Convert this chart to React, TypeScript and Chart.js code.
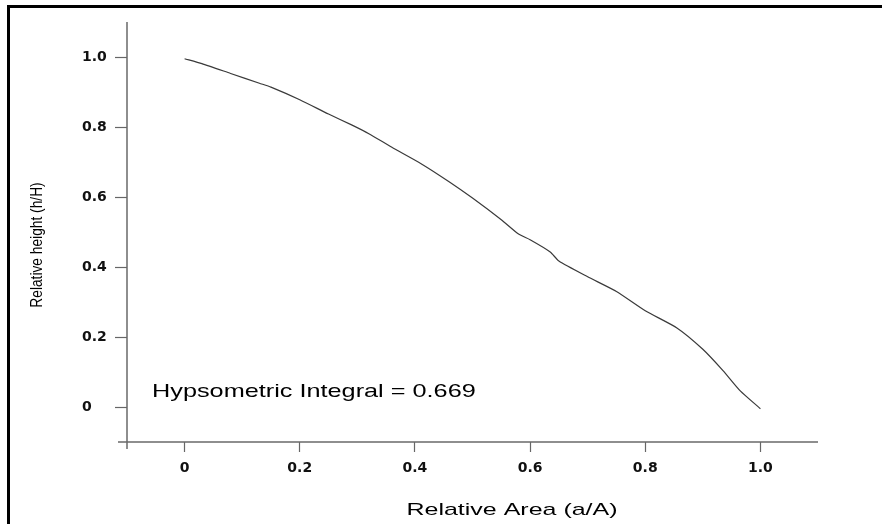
import React, { useEffect, useRef } from "react";
import { Chart, registerables } from "chart.js";

Chart.register(...registerables);

// Hypsometric curve (relative area a/A vs relative height h/H)
const areaRatio = [0, 0.03, 0.08, 0.13, 0.15, 0.2, 0.25, 0.29, 0.32, 0.36, 0.41, 0.46, 0.5, 0.55, 0.58, 0.6, 0.635, 0.65, 0.7, 0.75, 0.8, 0.855, 0.9, 0.935, 0.965, 1.0];
const heightRatio = [0.995, 0.981, 0.953, 0.925, 0.914, 0.878, 0.837, 0.806, 0.781, 0.742, 0.696, 0.643, 0.597, 0.535, 0.494, 0.478, 0.443, 0.417, 0.372, 0.33, 0.275, 0.226, 0.165, 0.104, 0.046, -0.005];

const xTickValues = [0, 0.2, 0.4, 0.6, 0.8, 1.0];
const xTickLabels = ["0", "0.2", "0.4", "0.6", "0.8", "1.0"];
const yTickValues = [0, 0.2, 0.4, 0.6, 0.8, 1.0];
const yTickLabels = ["0", "0.2", "0.4", "0.6", "0.8", "1.0"];

const xTitle = "Relative Area (a/A)";
const yTitle = "Relative height (h/H)";
const annotation = "Hypsometric Integral = 0.669";

const textPlugin = {
  id: "axesAndText",
  afterDraw(chart: any) {
    const { ctx, chartArea } = chart;
    const { left, right, top, bottom } = chartArea;
    ctx.save();
    // axis lines with crossing overhang
    ctx.strokeStyle = "#6a6a6a";
    ctx.lineWidth = 1.5;
    ctx.beginPath();
    ctx.moveTo(left - 9, bottom);
    ctx.lineTo(right, bottom);
    ctx.moveTo(left, top);
    ctx.lineTo(left, bottom + 7);
    ctx.stroke();

    ctx.fillStyle = "#000";
    // annotation
    ctx.save();
    ctx.font = "19px 'Liberation Sans', Arial, sans-serif";
    ctx.textAlign = "left";
    ctx.textBaseline = "alphabetic";
    ctx.translate(left + 25, 397);
    ctx.scale(1.33, 1);
    ctx.fillText(annotation, 0, 0);
    ctx.restore();

    // x title
    ctx.save();
    ctx.font = "17px 'Liberation Sans', Arial, sans-serif";
    ctx.textAlign = "center";
    ctx.textBaseline = "alphabetic";
    ctx.translate(512, 515);
    ctx.scale(1.47, 1);
    ctx.fillText(xTitle, 0, 0);
    ctx.restore();

    // y title
    ctx.save();
    ctx.font = "12.5px 'Liberation Sans', Arial, sans-serif";
    ctx.textAlign = "center";
    ctx.textBaseline = "middle";
    ctx.translate(37, 245);
    ctx.rotate(-Math.PI / 2);
    ctx.scale(1.1, 1.35);
    ctx.fillText(yTitle, 0, 0);
    ctx.restore();

    ctx.restore();
  },
};

export default function App() {
  const canvasRef = useRef<HTMLCanvasElement | null>(null);

  useEffect(() => {
    if (!canvasRef.current) return;
    const tickFont = { family: "'DejaVu Sans', sans-serif", size: 14, weight: "bold" };
    const chart = new Chart(canvasRef.current, {
      type: "line",
      data: {
        datasets: [
          {
            data: areaRatio.map((x, i) => ({ x, y: heightRatio[i] })),
            borderColor: "#3a3a3a",
            borderWidth: 1.2,
            pointRadius: 0,
            tension: 0.2,
            fill: false,
          },
        ],
      },
      options: {
        animation: false,
        responsive: false,
        devicePixelRatio: 1,
        layout: { padding: { left: 82, top: 22, right: 64, bottom: 0 } },
        plugins: { legend: { display: false }, tooltip: { enabled: false } },
        scales: {
          x: {
            type: "linear",
            min: -0.1,
            max: 1.1,
            border: { display: false },
            grid: {
              drawOnChartArea: false,
              drawTicks: true,
              tickLength: 10,
              tickColor: "#666",
              tickWidth: 1.2,
            },
            ticks: {
              font: tickFont,
              color: "#111",
              padding: 8,
              maxRotation: 0,
              callback: (v: any, i: number) => xTickLabels[i],
            },
            afterBuildTicks: (axis: any) => {
              axis.ticks = xTickValues.map((value) => ({ value }));
            },
            afterFit: (axis: any) => {
              axis.height = 82;
            },
          },
          y: {
            type: "linear",
            min: -0.1,
            max: 1.1,
            border: { display: false },
            grid: {
              drawOnChartArea: false,
              drawTicks: true,
              tickLength: 12,
              tickColor: "#666",
              tickWidth: 1.2,
            },
            ticks: {
              font: tickFont,
              color: "#111",
              padding: 6,
              crossAlign: "far",
              callback: (v: any, i: number) => yTickLabels[i],
            },
            afterBuildTicks: (axis: any) => {
              axis.ticks = yTickValues.map((value) => ({ value }));
            },
            afterFit: (axis: any) => {
              axis.width = 45;
            },
          },
        },
      },
      plugins: [textPlugin],
    } as any);
    return () => chart.destroy();
  }, []);

  return (
    <div
      style={{
        position: "fixed",
        left: 0,
        top: 0,
        width: 882,
        height: 524,
        overflow: "hidden",
        background: "#fff",
      }}
    >
      <div
        style={{
          position: "absolute",
          left: 7,
          top: 5,
          width: 900,
          height: 540,
          borderLeft: "3px solid #000",
          borderTop: "3px solid #000",
        }}
      />
      <canvas
        ref={canvasRef}
        width={882}
        height={524}
        style={{ position: "absolute", left: 0, top: 0, width: 882, height: 524 }}
      />
    </div>
  );
}
